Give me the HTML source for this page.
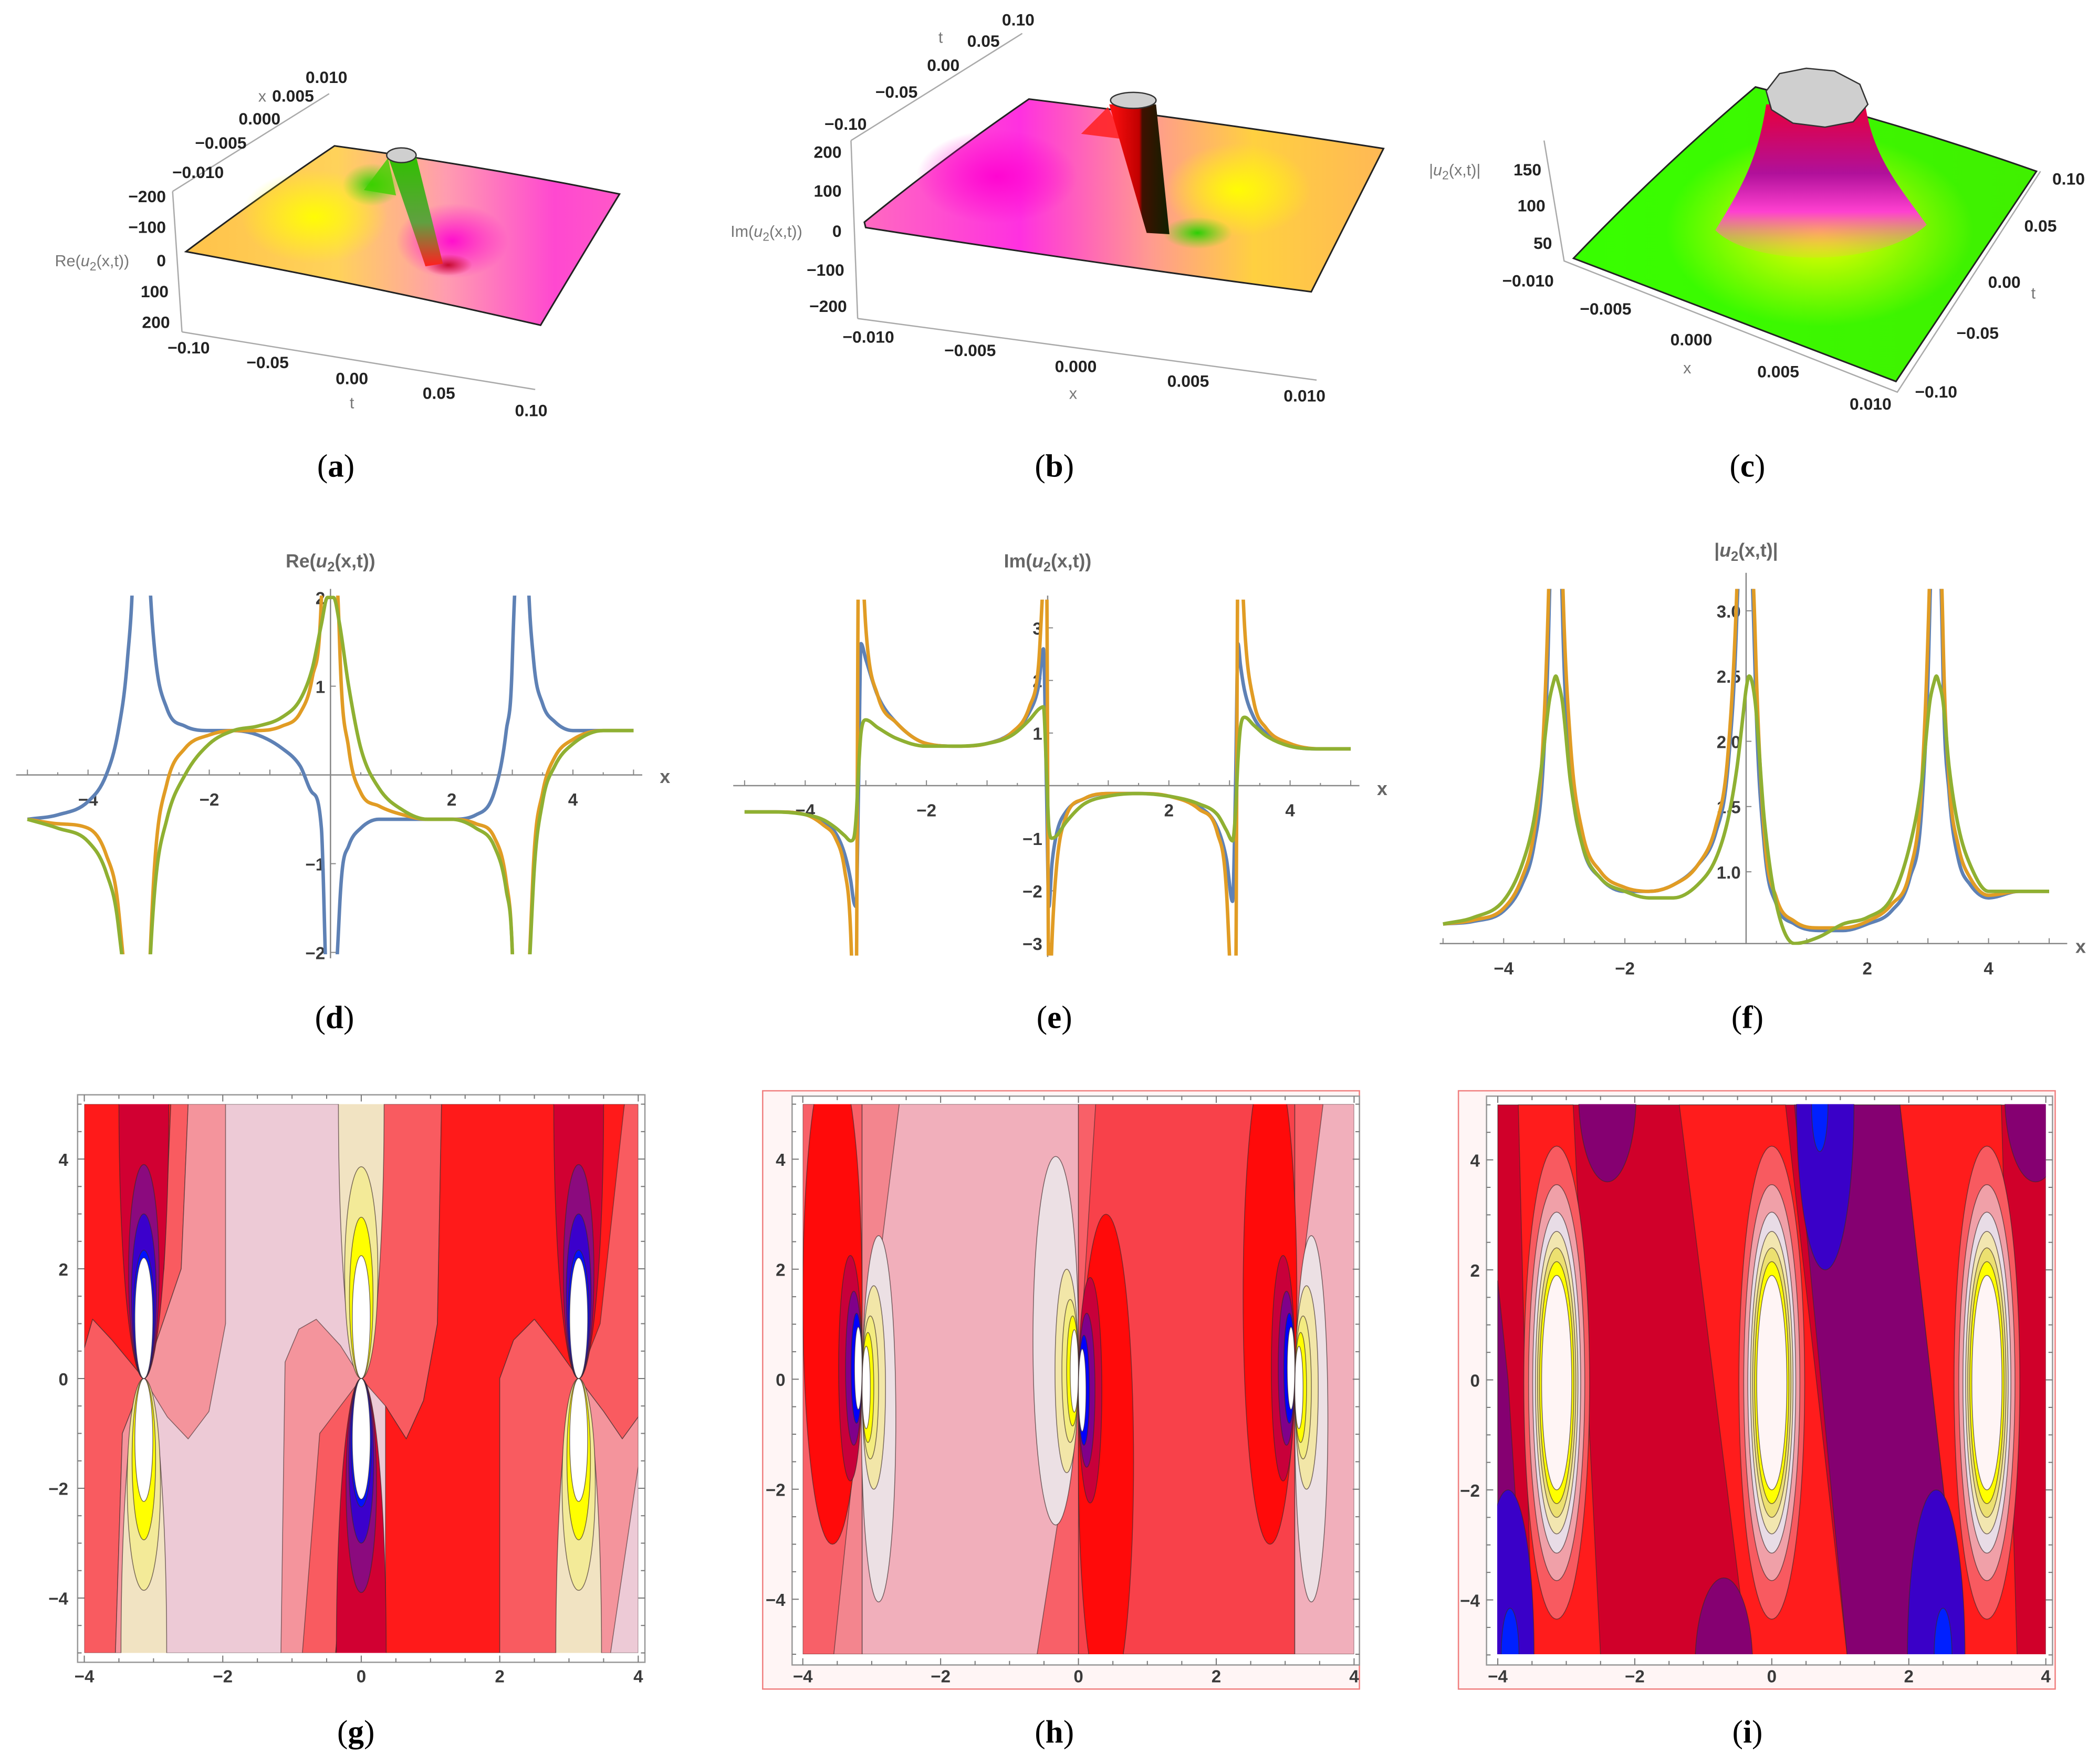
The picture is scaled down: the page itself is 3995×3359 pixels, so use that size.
<!DOCTYPE html>
<html><head><meta charset="utf-8"><style>
html,body{margin:0;padding:0;background:#fff;width:3995px;height:3359px;overflow:hidden;}
svg{display:block;}
.tk{font-family:"Liberation Sans",sans-serif;font-weight:bold;font-size:13px;fill:#3a3a3a;}
.tk3{font-family:"Liberation Sans",sans-serif;font-weight:bold;font-size:12.5px;fill:#222;}
.an{font-family:"Liberation Sans",sans-serif;font-size:12px;fill:#777;}
.ttl{font-family:"Liberation Sans",sans-serif;font-weight:bold;font-size:14px;fill:#666;}
.cap{font-family:"Liberation Serif",serif;font-size:24px;fill:#000;}
</style></head><body>
<svg id="fig" xmlns="http://www.w3.org/2000/svg" width="3995" height="3359" viewBox="0 0 1568 1318" preserveAspectRatio="none">
<defs>
<linearGradient id="ga" x1="139" y1="0" x2="463" y2="0" gradientUnits="userSpaceOnUse"><stop offset="0" stop-color="#ffc24a"/><stop offset="0.35" stop-color="#ffd25a"/><stop offset="0.6" stop-color="#ff9cb0"/><stop offset="0.85" stop-color="#ff48d0"/><stop offset="1" stop-color="#ff58c8"/></linearGradient>
<linearGradient id="gb" x1="646" y1="0" x2="1034" y2="0" gradientUnits="userSpaceOnUse"><stop offset="0" stop-color="#ff6ac0"/><stop offset="0.3" stop-color="#ff30e0"/><stop offset="0.55" stop-color="#ff9a90"/><stop offset="0.75" stop-color="#ffd040"/><stop offset="1" stop-color="#ffb855"/></linearGradient>
<radialGradient id="ry"><stop offset="0" stop-color="#ffff00" stop-opacity="0.95"/><stop offset="1" stop-color="#ffff00" stop-opacity="0"/></radialGradient>
<radialGradient id="rg"><stop offset="0" stop-color="#20d000" stop-opacity="0.95"/><stop offset="1" stop-color="#40e000" stop-opacity="0"/></radialGradient>
<radialGradient id="rm"><stop offset="0" stop-color="#ff00d0" stop-opacity="0.9"/><stop offset="1" stop-color="#ff00d0" stop-opacity="0"/></radialGradient>
<radialGradient id="rr"><stop offset="0" stop-color="#c00020" stop-opacity="0.9"/><stop offset="1" stop-color="#d00030" stop-opacity="0"/></radialGradient>
<linearGradient id="spa" x1="0" y1="0" x2="0" y2="1"><stop offset="0" stop-color="#30c000"/><stop offset="0.6" stop-color="#60a040"/><stop offset="1" stop-color="#ff2020"/></linearGradient>
<linearGradient id="spb" x1="0" y1="0" x2="1" y2="0"><stop offset="0" stop-color="#ff1010"/><stop offset="0.5" stop-color="#c00000"/><stop offset="0.55" stop-color="#401000"/><stop offset="1" stop-color="#102000"/></linearGradient>
<linearGradient id="cone" x1="0" y1="0" x2="0" y2="1"><stop offset="0" stop-color="#e8003a"/><stop offset="0.45" stop-color="#b0109a"/><stop offset="0.7" stop-color="#ff40d0"/><stop offset="1" stop-color="#ffb060" stop-opacity="0.2"/></linearGradient>
<linearGradient id="gc" x1="1176" y1="0" x2="1522" y2="0" gradientUnits="userSpaceOnUse"><stop offset="0" stop-color="#38ff00"/><stop offset="1" stop-color="#40f000"/></linearGradient>
<clipPath id="cd"><rect x="12" y="445" width="463" height="268"/></clipPath>
<clipPath id="ce"><rect x="548" y="448" width="464" height="266"/></clipPath>
<clipPath id="cf"><rect x="1076" y="440" width="464" height="266"/></clipPath>
<clipPath id="cg"><rect x="63" y="825" width="414" height="410"/></clipPath>
<clipPath id="ch"><rect x="600" y="825" width="412" height="411"/></clipPath>
<clipPath id="ci"><rect x="1119" y="825" width="410" height="411"/></clipPath>
</defs>

<!-- ===== Panel (a) ===== -->
<g>
<path d="M139,188 Q195,146 250,109 Q360,124 463,145 Q432,196 404,243 Q270,212 139,188 Z" fill="url(#ga)" stroke="#222" stroke-width="1.2"/>
<ellipse cx="235" cy="162" rx="55" ry="35" fill="url(#ry)"/>
<ellipse cx="278" cy="138" rx="22" ry="16" fill="url(#rg)"/>
<ellipse cx="338" cy="180" rx="42" ry="28" fill="url(#rm)"/>
<ellipse cx="335" cy="198" rx="18" ry="8" fill="url(#rr)"/>
<path d="M290,118 L272,142 L296,146 Z" fill="#40d000" opacity="0.8"/>
<path d="M290,117 L311,117 L331,197 L318,199 Z" fill="url(#spa)"/>
<ellipse cx="300" cy="116" rx="11" ry="5.5" fill="#cfcfcf" stroke="#333" stroke-width="1"/>
<path d="M129,143 L136,248 M129,143 L246,70 M136,248 L400,291" stroke="#aaa" stroke-width="1" fill="none"/>
<text class="tk3" x="124" y="151" text-anchor="end">−200</text>
<text class="tk3" x="124" y="174" text-anchor="end">−100</text>
<text class="tk3" x="124" y="199" text-anchor="end">0</text>
<text class="tk3" x="126" y="222" text-anchor="end">100</text>
<text class="tk3" x="127" y="245" text-anchor="end">200</text>
<text class="an" x="41" y="199">Re(<tspan font-style="italic">u</tspan><tspan font-size="9" dy="3">2</tspan><tspan dy="-3">(x,t))</tspan></text>
<text class="tk3" x="148" y="133" text-anchor="middle">−0.010</text>
<text class="tk3" x="165" y="111" text-anchor="middle">−0.005</text>
<text class="tk3" x="194" y="93" text-anchor="middle">0.000</text>
<text class="an" x="193" y="76">x</text>
<text class="tk3" x="219" y="76" text-anchor="middle">0.005</text>
<text class="tk3" x="244" y="62" text-anchor="middle">0.010</text>
<text class="tk3" x="141" y="264" text-anchor="middle">−0.10</text>
<text class="tk3" x="200" y="275" text-anchor="middle">−0.05</text>
<text class="tk3" x="263" y="287" text-anchor="middle">0.00</text>
<text class="an" x="263" y="305" text-anchor="middle">t</text>
<text class="tk3" x="328" y="298" text-anchor="middle">0.05</text>
<text class="tk3" x="397" y="311" text-anchor="middle">0.10</text>
<text class="cap" x="251" y="356" text-anchor="middle">(<tspan font-weight="bold">a</tspan>)</text>
</g>

<!-- ===== Panel (b) ===== -->
<g>
<path d="M646,166 Q705,118 769,74 Q900,90 1034,111 Q1006,166 980,218 Q812,196 647,170 Z" fill="url(#gb)" stroke="#222" stroke-width="1.2"/>
<ellipse cx="745" cy="132" rx="60" ry="35" fill="url(#rm)"/>
<ellipse cx="925" cy="142" rx="55" ry="35" fill="url(#ry)"/>
<ellipse cx="895" cy="174" rx="26" ry="12" fill="url(#rg)"/>
<path d="M828,80 L808,100 L840,104 Z" fill="#ff2020" opacity="0.85"/>
<path d="M829,78 L864,78 L874,175 L857,174 Z" fill="url(#spb)"/>
<ellipse cx="847" cy="75" rx="17" ry="6" fill="#cfcfcf" stroke="#333" stroke-width="1"/>
<path d="M636,105 L641,238 M636,105 L764,25 M641,238 L984,284" stroke="#aaa" stroke-width="1" fill="none"/>
<text class="tk3" x="629" y="118" text-anchor="end">200</text>
<text class="tk3" x="629" y="147" text-anchor="end">100</text>
<text class="tk3" x="629" y="177" text-anchor="end">0</text>
<text class="tk3" x="631" y="206" text-anchor="end">−100</text>
<text class="tk3" x="633" y="233" text-anchor="end">−200</text>
<text class="an" x="546" y="177">Im(<tspan font-style="italic">u</tspan><tspan font-size="9" dy="3">2</tspan><tspan dy="-3">(x,t))</tspan></text>
<text class="tk3" x="632" y="97" text-anchor="middle">−0.10</text>
<text class="tk3" x="670" y="73" text-anchor="middle">−0.05</text>
<text class="tk3" x="705" y="53" text-anchor="middle">0.00</text>
<text class="an" x="703" y="32" text-anchor="middle">t</text>
<text class="tk3" x="735" y="35" text-anchor="middle">0.05</text>
<text class="tk3" x="761" y="19" text-anchor="middle">0.10</text>
<text class="tk3" x="649" y="256" text-anchor="middle">−0.010</text>
<text class="tk3" x="725" y="266" text-anchor="middle">−0.005</text>
<text class="tk3" x="804" y="278" text-anchor="middle">0.000</text>
<text class="an" x="802" y="298" text-anchor="middle">x</text>
<text class="tk3" x="888" y="289" text-anchor="middle">0.005</text>
<text class="tk3" x="975" y="300" text-anchor="middle">0.010</text>
<text class="cap" x="788" y="356" text-anchor="middle">(<tspan font-weight="bold">b</tspan>)</text>
</g>

<!-- ===== Panel (c) ===== -->
<g>
<path d="M1176,193 Q1240,126 1312,65 Q1420,92 1522,128 Q1470,206 1417,285 Q1290,236 1176,193 Z" fill="url(#gc)" stroke="#222" stroke-width="1.2"/>
<ellipse cx="1360" cy="172" rx="115" ry="72" fill="url(#ry)"/>
<path d="M1320,78 L1394,78 C1400,118 1420,140 1440,168 C1405,200 1310,200 1282,172 C1302,140 1314,118 1320,78 Z" fill="url(#cone)"/>
<polygon points="1330,55 1350,51 1371,53 1390,63 1396,78 1385,91 1364,95 1340,92 1324,82 1320,68" fill="#cfcfcf" stroke="#333" stroke-width="1"/>
<path d="M1154,105 L1169,195 L1418,293 L1525,128" stroke="#aaa" stroke-width="1" fill="none"/>
<text class="tk3" x="1152" y="131" text-anchor="end">150</text>
<text class="tk3" x="1155" y="158" text-anchor="end">100</text>
<text class="tk3" x="1160" y="186" text-anchor="end">50</text>
<text class="an" x="1068" y="131">|<tspan font-style="italic">u</tspan><tspan font-size="9" dy="3">2</tspan><tspan dy="-3">(x,t)|</tspan></text>
<text class="tk3" x="1142" y="214" text-anchor="middle">−0.010</text>
<text class="tk3" x="1200" y="235" text-anchor="middle">−0.005</text>
<text class="tk3" x="1264" y="258" text-anchor="middle">0.000</text>
<text class="an" x="1261" y="279" text-anchor="middle">x</text>
<text class="tk3" x="1329" y="282" text-anchor="middle">0.005</text>
<text class="tk3" x="1398" y="306" text-anchor="middle">0.010</text>
<text class="tk3" x="1546" y="138" text-anchor="middle">0.10</text>
<text class="tk3" x="1525" y="173" text-anchor="middle">0.05</text>
<text class="tk3" x="1498" y="215" text-anchor="middle">0.00</text>
<text class="an" x="1518" y="223">t</text>
<text class="tk3" x="1478" y="253" text-anchor="middle">−0.05</text>
<text class="tk3" x="1447" y="297" text-anchor="middle">−0.10</text>
<text class="cap" x="1306" y="356" text-anchor="middle">(<tspan font-weight="bold">c</tspan>)</text>
</g>

<!-- ===== Line panels ===== -->
<g id="pd">
<text class="ttl" x="247" y="424" text-anchor="middle">Re(<tspan font-style="italic">u</tspan><tspan font-size="10" dy="3">2</tspan><tspan dy="-3">(x,t))</tspan></text>
<text class="ttl" x="497" y="585" text-anchor="middle">x</text>
<text class="cap" x="250" y="768" text-anchor="middle">(<tspan font-weight="bold">d</tspan>)</text>
</g>
<g id="pe">
<text class="ttl" x="783" y="424" text-anchor="middle">Im(<tspan font-style="italic">u</tspan><tspan font-size="10" dy="3">2</tspan><tspan dy="-3">(x,t))</tspan></text>
<text class="ttl" x="1033" y="594" text-anchor="middle">x</text>
<text class="cap" x="788" y="768" text-anchor="middle">(<tspan font-weight="bold">e</tspan>)</text>
</g>
<g id="pf">
<text class="ttl" x="1305" y="416" text-anchor="middle">|<tspan font-style="italic">u</tspan><tspan font-size="10" dy="3">2</tspan><tspan dy="-3">(x,t)|</tspan></text>
<text class="ttl" x="1555" y="712" text-anchor="middle">x</text>
<text class="cap" x="1306" y="768" text-anchor="middle">(<tspan font-weight="bold">f</tspan>)</text>
</g>

<!-- ===== Contour panels ===== -->
<g id="pg">
<text class="cap" x="266" y="1302" text-anchor="middle">(<tspan font-weight="bold">g</tspan>)</text>
</g>
<g id="ph">
<rect x="570" y="815" width="446" height="447" fill="#fff5f5" stroke="#f08080" stroke-width="1"/>
<text class="cap" x="788" y="1302" text-anchor="middle">(<tspan font-weight="bold">h</tspan>)</text>
</g>
<g id="pi">
<rect x="1090" y="815" width="446" height="447" fill="#fff5f5" stroke="#f08080" stroke-width="1"/>
<text class="cap" x="1306" y="1302" text-anchor="middle">(<tspan font-weight="bold">i</tspan>)</text>
</g>
</svg>

<script>
// ---------------- Line chart data ----------------
const dX=[-5,-4.5,-4,-3.7,-3.5,-3.35,-3.25,-3.18,-3.1,-3.0,-2.9,-2.7,-2.4,-2,-1.6,-1.2,-0.8,-0.5,-0.3,-0.15,-0.05,0.05,0.15,0.3,0.5,0.8,1.2,1.6,2,2.4,2.7,2.9,3.0,3.1,3.18,3.25,3.35,3.5,3.7,4,4.5,5];
const dBlue=[-0.5,-0.45,-0.3,0,0.5,1.3,2.5,5,5,2.5,1.4,0.75,0.55,0.5,0.5,0.45,0.3,0.1,-0.2,-0.6,-5,-5,-1.5,-0.8,-0.6,-0.5,-0.5,-0.5,-0.5,-0.45,-0.2,0.5,1.3,5,5,2.5,1.3,0.8,0.6,0.5,0.5,0.5];
const dOrange=[-0.5,-0.55,-0.6,-0.9,-1.5,-3,-5,-5,-5,-2.5,-1,-0.1,0.3,0.45,0.5,0.5,0.55,0.7,1.1,2,5,5,1.5,0.3,-0.2,-0.35,-0.45,-0.5,-0.5,-0.55,-0.7,-1.2,-2,-5,-5,-3,-1,-0.2,0.2,0.4,0.5,0.5];
const dGreen=[-0.5,-0.6,-0.75,-1.1,-1.7,-3,-5,-5,-5,-2.5,-1.3,-0.5,0,0.35,0.5,0.55,0.65,0.85,1.2,1.7,2,2,1.7,1,0.3,-0.15,-0.4,-0.5,-0.5,-0.6,-0.8,-1.3,-2,-5,-5,-3,-1.2,-0.3,0.1,0.35,0.5,0.5];
const dXTicks=[-4,-2,2,4];
const dYTicks=[2,1,-1,-2];

const eX=[-5,-4.5,-4,-3.7,-3.5,-3.35,-3.25,-3.2,-3.16,-3.12,-3.08,-3.0,-2.8,-2.5,-2,-1.5,-1,-0.6,-0.3,-0.15,-0.07,-0.02,0.02,0.07,0.15,0.3,0.6,1,1.5,2,2.5,2.8,2.95,3.05,3.1,3.14,3.18,3.25,3.4,3.6,4,4.5,5];
const eBlue=[-0.5,-0.5,-0.55,-0.7,-0.9,-1.3,-1.8,-2.2,-2.3,0,2.7,2.4,1.7,1.2,0.8,0.75,0.8,1.0,1.4,1.9,2.6,0,-2.3,-1.5,-0.9,-0.5,-0.25,-0.15,-0.15,-0.2,-0.4,-0.8,-1.4,-2.2,0,2.7,2.3,1.8,1.3,1.0,0.75,0.7,0.7];
const eOrange=[-0.5,-0.5,-0.55,-0.75,-1.0,-1.6,-2.8,-5,-5,5,5,3,1.7,1.2,0.8,0.75,0.8,1.0,1.5,2.3,4,5,-5,-3,-1.5,-0.6,-0.25,-0.15,-0.15,-0.2,-0.45,-0.9,-2,-5,-5,5,5,3,1.6,1.1,0.8,0.7,0.7];
const eGreen=[-0.5,-0.5,-0.55,-0.65,-0.8,-0.95,-1.05,-1.0,-0.6,0.3,1.0,1.25,1.1,0.9,0.75,0.75,0.8,0.95,1.25,1.45,1.5,0.3,-0.8,-1.0,-0.95,-0.7,-0.35,-0.2,-0.15,-0.2,-0.35,-0.55,-0.85,-1.05,-0.5,0.5,1.1,1.3,1.15,0.95,0.75,0.7,0.7];
const eXTicks=[-4,-2,2,4];
const eYTicks=[3,2,1,-1,-2,-3];

const fX=[-5,-4.5,-4,-3.7,-3.5,-3.35,-3.25,-3.18,-3.14,-3.1,-3.03,-2.9,-2.7,-2.4,-2,-1.6,-1.2,-0.8,-0.5,-0.3,-0.15,-0.05,0,0.05,0.15,0.3,0.5,0.8,1.2,1.6,2,2.4,2.7,2.9,3.03,3.1,3.14,3.18,3.25,3.35,3.5,3.7,4,4.5,5];
const fBlue=[0.6,0.62,0.7,0.9,1.2,1.8,3,5,5,5,3,1.8,1.2,0.95,0.85,0.85,0.9,1.05,1.3,1.8,3,5,5,5,2.5,1.2,0.75,0.6,0.55,0.55,0.6,0.7,0.95,1.5,3,5,5,5,2.5,1.6,1.1,0.9,0.8,0.85,0.85];
const fOrange=[0.6,0.63,0.72,0.95,1.3,2,3.3,5,5,5,3.3,2,1.3,1.0,0.88,0.85,0.9,1.05,1.35,1.9,3.2,5,5,5,2.8,1.3,0.8,0.62,0.57,0.57,0.62,0.75,1.0,1.7,3.3,5,5,5,2.8,1.7,1.2,0.95,0.82,0.85,0.85];
const fGreen=[0.6,0.65,0.78,1.05,1.4,1.9,2.3,2.45,2.5,2.45,2.3,1.7,1.2,0.95,0.85,0.8,0.8,0.9,1.1,1.4,1.8,2.2,2.4,2.5,2.3,1.4,0.75,0.45,0.5,0.6,0.65,0.8,1.2,1.7,2.3,2.45,2.5,2.45,2.3,1.8,1.35,1.05,0.85,0.85,0.85];
const fXTicks=[-4,-2,2,4];
const fYTicks=[1.0,1.5,2.0,2.5,3.0];

// ---------------- Contour data ----------------
const gRegions=[
 ['pale',[[-4,-5],[4,-5],[4,5],[-4,5]]],
 ['red',[[-4,5],[-2.75,5],[-2.85,2],[-3.14,0],[-3.6,0.7],[-3.88,1.08],[-4,0.55]]],
 ['salm',[[-2.75,5],[-2.5,5],[-2.6,2],[-3.14,0],[-2.85,2]]],
 ['pink',[[-2.5,5],[-1.96,5],[-1.96,1],[-2.2,-0.6],[-2.5,-1.1],[-2.8,-0.7],[-3.14,0],[-2.6,2]]],
 ['salm',[[-4,0.55],[-3.88,1.08],[-3.6,0.7],[-3.14,0],[-3.45,-1],[-3.55,-5],[-4,-5]]],
 ['pink',[[-3.55,-5],[-3.45,-1],[-3.14,0],[-3.3,-5]]],
 ['pink',[[-1.16,-5],[-1.1,0.3],[-0.9,0.9],[-0.65,1.08],[-0.3,0.6],[0,0],[-0.5,-5]]],
 ['salm',[[-0.85,-5],[-0.6,-1],[0,0],[-0.37,-5]]],
 ['red',[[-0.37,-5],[0,0],[0.35,-5]]],
 ['salm',[[0,0],[0.25,5],[1.16,5],[1.1,1],[0.9,-0.4],[0.65,-1.1],[0.35,-0.5]]],
 ['red',[[1.16,5],[3.0,5],[3.14,0],[2.8,0.6],[2.5,1.08],[2.2,0.7],[2.0,0],[2.0,-5],[0.35,-5],[0.35,-0.5],[0.65,-1.1],[0.9,-0.4],[1.1,1]]],
 ['salm',[[2.0,-5],[2.0,0],[2.2,0.7],[2.5,1.08],[2.8,0.6],[3.14,0],[2.9,-5]]],
 ['salm',[[3.14,0],[3.8,5],[4,5],[4,-0.7],[3.77,-1.1],[3.5,-0.6]]],
 ['red',[[3.14,0],[3.3,5],[3.8,5],[3.45,1]]],
 ['pink',[[3.14,0],[3.5,-0.6],[3.77,-1.1],[4,-0.7],[4,-1.6],[3.6,-5],[3.4,-5]]]
];
const gPoles=[[-3.14,1],[0,-1],[3.14,1]];
const gCold=[['dred',0.36,5,5],['purp',0.22,1.95,1.95],['bviol',0.18,1.5,1.5],['blue',0.15,1.17,1.17],['white',0.13,1.1,1.1]];
const gWarm=[['beige',0.33,5,5],['lyel',0.24,1.93,1.93],['yel',0.17,1.47,1.47],['white',0.13,1.12,1.12]];

const hRegions=[
 ['pink',[[-4,-5],[4,-5],[4,5],[-4,5]]],
 ['salm',[[-4,-5],[-3.14,-5],[-3.14,5],[-4,5]]],
 ['spink',[[-3.14,0],[-3.3,-2],[-3.55,-5],[-3.14,-5]]],
 ['spink',[[-3.14,5],[-2.6,5],[-2.9,2],[-3.14,0]]],
 ['coral',[[0,-5],[3.14,-5],[3.14,5],[0,5]]],
 ['salm',[[0,5],[0.25,5],[0.05,1],[0,0]]],
 ['salm',[[-0.6,-5],[0,-5],[0,0],[-0.1,-1]]],
 ['salm',[[3.14,-5],[4,-5],[4,5],[3.14,5]]],
 ['pink',[[3.55,5],[4,5],[4,-5],[3.14,-5],[3.14,0],[3.3,2.5]]]
];
const hLobes=[['red',-3.57,0.43,1.5,4.5],['red',0.4,0.4,-1.5,4.5],['red',2.78,0.39,1.5,4.5],['lav',-2.9,0.25,-0.72,3.33],['lav',-0.33,0.33,0.7,3.35],['lav',3.38,0.24,-0.72,3.33]];
const hPoles=[[-3.14,1],[0,-1],[3.14,1]];
const hCold=[['dred',0.17,2.05],['purp',0.12,1.4],['blue',0.08,1.0],['white',0.055,0.75]];
const hWarm=[['beige',0.17,1.85],['lyel',0.12,1.3],['yel',0.085,1.0],['white',0.06,0.75]];

const iBands=[[-3.7,-2.9,-3.5,-2.5],[-1.35,0.2,-0.35,1.1],[1.87,3.35,2.78,3.58]];
const iPurpleBand=[[0.33,5],[1.87,5],[2.78,-5],[1.1,-5]];
const iLeftStrip=[[-4,1.8],[-3.85,0],[-3.6,-5],[-4,-5]];
const iLobes=[['purp',-2.4,0.42,5.2,1.6],['purp',-0.7,0.42,-5.2,1.6],['purp',3.85,0.45,5.2,1.6],['blue',0.78,0.42,5,3.0],['bblue',0.7,0.12,5,0.85],['blue',2.4,0.42,-5,3.0],['bblue',2.5,0.13,-5,0.85],['blue',-3.85,0.38,-5,3.0],['bblue',-3.82,0.13,-5,0.85]];
const iPoles=[-3.14,0,3.14];
const iRings=[['salm',0.48,4.3],['pink',0.41,3.6],['lav',0.35,3.1],['beige',0.31,2.75],['lyel',0.28,2.45],['yel',0.25,2.2],['white',0.22,1.95]];
const cTicks=[-4,-2,0,2,4];

const PAL={red:'#ff1a1a',dred:'#d10032',purp:'#8b0a7e',bviol:'#3b00cc',blue:'#0010ff',white:'#ffffff',salm:'#f95b60',pink:'#f4949c',pale:'#edcad6',beige:'#f1e3c2',lyel:'#f3ea98',yel:'#ffff00'};
const PALH={red:'#ff0a0a',coral:'#f8414a',salm:'#f86068',pink:'#f1afbb',spink:'#f3858e',lav:'#ece0e4',beige:'#f2e6a8',lyel:'#f3ec80',yel:'#ffff00',white:'#ffffff',dred:'#c8003a',purp:'#80008a',blue:'#0000ff'};
const PALI={crim:'#d0002a',red:'#ff1c1c',purp:'#850071',blue:'#3a00c8',bblue:'#0020ff',salm:'#f85a60',pink:'#f0a0a8',lav:'#e8dce6',beige:'#f2e6b0',lyel:'#ece070',yel:'#ffff00',white:'#fff5f5'};

const NS='http://www.w3.org/2000/svg';
function mk(tag,attrs,parent){const e=document.createElementNS(NS,tag);for(const k in attrs)e.setAttribute(k,attrs[k]);parent.appendChild(e);return e;}

// monotone cubic (Fritsch-Carlson) path through pixel points, clamped vertically
function monoPath(px,py,yMin,yMax){
  const n=px.length, dx=[], m=[], t=new Array(n);
  for(let i=0;i<n-1;i++){dx[i]=px[i+1]-px[i]; m[i]=(py[i+1]-py[i])/dx[i];}
  t[0]=m[0]; t[n-1]=m[n-2];
  for(let i=1;i<n-1;i++){ t[i]=(m[i-1]*m[i]<=0)?0:(m[i-1]+m[i])/2; }
  for(let i=0;i<n-1;i++){
    if(m[i]===0){t[i]=0;t[i+1]=0;continue;}
    const a=t[i]/m[i], b=t[i+1]/m[i], s=a*a+b*b;
    if(s>9){const k=3/Math.sqrt(s);t[i]=k*a*m[i];t[i+1]=k*b*m[i];}
  }
  const c=v=>Math.max(yMin,Math.min(yMax,v)).toFixed(2);
  let d='M'+px[0].toFixed(2)+','+c(py[0]);
  for(let i=0;i<n-1;i++){
    const h=dx[i]/3;
    d+=' C'+(px[i]+h).toFixed(2)+','+c(py[i]+t[i]*h)+' '+(px[i+1]-h).toFixed(2)+','+c(py[i+1]-t[i+1]*h)+' '+px[i+1].toFixed(2)+','+c(py[i+1]);
  }
  return d;
}

// ---------------- Line panels ----------------
function linePanel(gid,key,X,Y,xs,series,xt,yt,axisY,axisX,xl,xr,yTop,yBot,clip,xLabY,yLabX,fmt){
  const g=document.getElementById(gid);
  const ax=mk('line',{x1:xl,y1:axisY,x2:xr,y2:axisY,stroke:'#888','stroke-width':1},g);
  
  
  const ay=mk('line',{x1:axisX,y1:yTop,x2:axisX,y2:yBot,stroke:'#888','stroke-width':1},g);
  
  
  for(let v=-5;v<=5;v+=0.5){
    const tm=mk('line',{x1:X(v),y1:axisY,x2:X(v),y2:axisY-(Number.isInteger(v)?4:2),stroke:'#888','stroke-width':0.8},g);
    
    
  }
  xt.forEach(v=>{
    const t=mk('text',{x:X(v),y:xLabY,'text-anchor':'middle',class:'tk'},g);
    t.textContent=(v<0?'−':'')+Math.abs(v);
    
    
  });
  yt.forEach(v=>{
    const tm=mk('line',{x1:axisX,y1:Y(v),x2:axisX+4,y2:Y(v),stroke:'#888','stroke-width':0.8},g);
    
    
    const t=mk('text',{x:yLabX,y:Y(v)+5,'text-anchor':'end',class:'tk'},g);
    t.textContent=(v<0?'−':'')+fmt(Math.abs(v));
    
    
  });
  const cg=mk('g',{'clip-path':'url(#'+clip+')'},g);
  
  
  series.forEach(s=>{
    const d=monoPath(xs.map(X),s.v.map(Y),yTop-30,yBot+30);
    const p=mk('path',{d:d,fill:'none',stroke:s.c,'stroke-width':2.6,'stroke-linejoin':'round'},cg);
    
    
  });
}
const intFmt=v=>String(v), decFmt=v=>v.toFixed(1);
const dXs=x=>247+45.3*x, dYs=y=>579-66.3*y;
linePanel('pd','d',dXs,dYs,dX,[{n:'blue',c:'#5e81b5',v:dBlue},{n:'orange',c:'#e19c24',v:dOrange},{n:'green',c:'#8fb032',v:dGreen}],dXTicks,dYTicks,579,247,12,480,440,716,'cd',602,243,intFmt);
const eXs=x=>783+45.3*x, eYs=y=>587-39.3*y;
linePanel('pe','e',eXs,eYs,eX,[{n:'blue',c:'#5e81b5',v:eBlue},{n:'orange',c:'#e19c24',v:eOrange},{n:'green',c:'#8fb032',v:eGreen}],eXTicks,eYTicks,587,783,548,1016,445,715,'ce',610,779,intFmt);
const fXs=x=>1305+45.3*x, fYs=y=>705-97.5*(y-0.45);
linePanel('pf','f',fXs,fYs,fX,[{n:'blue',c:'#5e81b5',v:fBlue},{n:'orange',c:'#e19c24',v:fOrange},{n:'green',c:'#8fb032',v:fGreen}],fXTicks,fYTicks,705,1305,1076,1545,428,705,'cf',728,1301,decFmt);

// ---------------- Contour panels ----------------
const LINE='#3a2a2a';
function poly(par,pts,fill,X,Y,name){
  const p=mk('polygon',{points:pts.map(q=>X(q[0]).toFixed(2)+','+Y(q[1]).toFixed(2)).join(' '),fill:fill,stroke:LINE,'stroke-width':0.6,'stroke-opacity':0.6,'stroke-linejoin':'round'},par);
  
  
  return p;
}
// ellipse drawn as polygon, clamped to the data domain so nothing extends off-page
function ell(par,cx,rx,cy,ry,fill,X,Y,name){
  const pts=[];
  for(let k=0;k<96;k++){
    const a=k/96*2*Math.PI;
    const x=Math.max(-4.05,Math.min(4.05,cx+rx*Math.cos(a)));
    const y=Math.max(-5.05,Math.min(5.05,cy+ry*Math.sin(a)));
    pts.push(X(x).toFixed(2)+','+Y(y).toFixed(2));
  }
  const e=mk('polygon',{points:pts.join(' '),fill:fill,stroke:LINE,'stroke-width':0.6,'stroke-opacity':0.65,'stroke-linejoin':'round'},par);
  
  
  return e;
}
function frame(gid,key,X,Y,fx,fy,fw,fh,labY,labX){
  const g=document.getElementById(gid);
  const fr=mk('rect',{x:fx,y:fy,width:fw,height:fh,fill:'#fff',stroke:'#999','stroke-width':1},g);
  
  
  const cg=mk('g',{'clip-path':'url(#c'+key+')'},g);
  
  
  for(let v=-4;v<=4;v+=0.5){
    const L=Number.isInteger(v)&&v%2===0?5:3;
    const t1=mk('line',{x1:X(v),y1:fy+fh,x2:X(v),y2:fy+fh-L,stroke:'#777','stroke-width':0.8},g);
    
    
    const t2=mk('line',{x1:X(v),y1:fy,x2:X(v),y2:fy+L,stroke:'#777','stroke-width':0.8},g);
    
    
  }
  for(let v=-5;v<=5;v+=0.5){
    const L=Number.isInteger(v)&&v%2===0?5:3;
    const t1=mk('line',{x1:fx,y1:Y(v),x2:fx+L,y2:Y(v),stroke:'#777','stroke-width':0.8},g);
    
    
    const t2=mk('line',{x1:fx+fw,y1:Y(v),x2:fx+fw-L,y2:Y(v),stroke:'#777','stroke-width':0.8},g);
    
    
  }
  cTicks.forEach(v=>{
    const t=mk('text',{x:X(v),y:labY,'text-anchor':'middle',class:'tk'},g);
    t.textContent=(v<0?'−':'')+Math.abs(v);
    
    
    const u=mk('text',{x:labX,y:Y(v)+5,'text-anchor':'end',class:'tk'},g);
    u.textContent=(v<0?'−':'')+Math.abs(v);
    
    
  });
  return cg;
}
// (g)
const gXs=x=>270+51.75*x, gYs=y=>1030-41*y;
const gArea=frame('pg','g',gXs,gYs,58,818,424,424,1257,51);
gRegions.forEach(r=>poly(gArea,r[1],PAL[r[0]],gXs,gYs,'g-region-'+r[0]));
gPoles.forEach(p=>{
  const xp=p[0], s=p[1];
  gWarm.forEach(w=>ell(gArea,xp,w[1],-s*w[2],w[3],PAL[w[0]],gXs,gYs,'g-warm-lobe-'+w[0]));
  gCold.forEach(c=>ell(gArea,xp,c[1],s*c[2],c[3],PAL[c[0]],gXs,gYs,'g-cold-lobe-'+c[0]));
});
// (h)
const hXs=x=>806+51.5*x, hYs=y=>1030.5-41.1*y;
const hArea=frame('ph','h',hXs,hYs,592,819,424,425,1257,587);
hRegions.forEach(r=>poly(hArea,r[1],PALH[r[0]],hXs,hYs,'h-region-'+r[0]));
hLobes.forEach(l=>ell(hArea,l[1],l[2],l[3],l[4],PALH[l[0]],hXs,hYs,'h-lobe-'+l[0]));
hPoles.forEach(p=>{
  const xp=p[0], s=p[1];
  hWarm.forEach(w=>ell(hArea,xp+s*w[1],w[1],-0.15*s,w[2],PALH[w[0]],hXs,hYs,'h-warm-lobe-'+w[0]));
  hCold.forEach(c=>ell(hArea,xp-s*c[1],c[1],0.2*s,c[2],PALH[c[0]],hXs,hYs,'h-cold-lobe-'+c[0]));
});
// (i)
const iXs=x=>1324.2+51.2*x, iYs=y=>1031-41.1*y;
const iArea=frame('pi','i',iXs,iYs,1111,819,423,425,1257,1106);
poly(iArea,[[-4,-5],[4,-5],[4,5],[-4,5]],PALI.crim,iXs,iYs,'i-background-region');
iBands.forEach(b=>poly(iArea,[[b[0],5],[b[1],5],[b[3],-5],[b[2],-5]],PALI.red,iXs,iYs,'i-red-band'));
poly(iArea,iPurpleBand,PALI.purp,iXs,iYs,'i-purple-band');
poly(iArea,iLeftStrip,PALI.purp,iXs,iYs,'i-purple-strip');
iLobes.forEach(l=>ell(iArea,l[1],l[2],l[3],l[4],PALI[l[0]],iXs,iYs,'i-lobe-'+l[0]));
iPoles.forEach(xp=>{
  iRings.forEach(r=>ell(iArea,xp,r[1],-0.05,r[2],PALI[r[0]],iXs,iYs,'i-ring-'+r[0]));
});
</script>
</body></html>
